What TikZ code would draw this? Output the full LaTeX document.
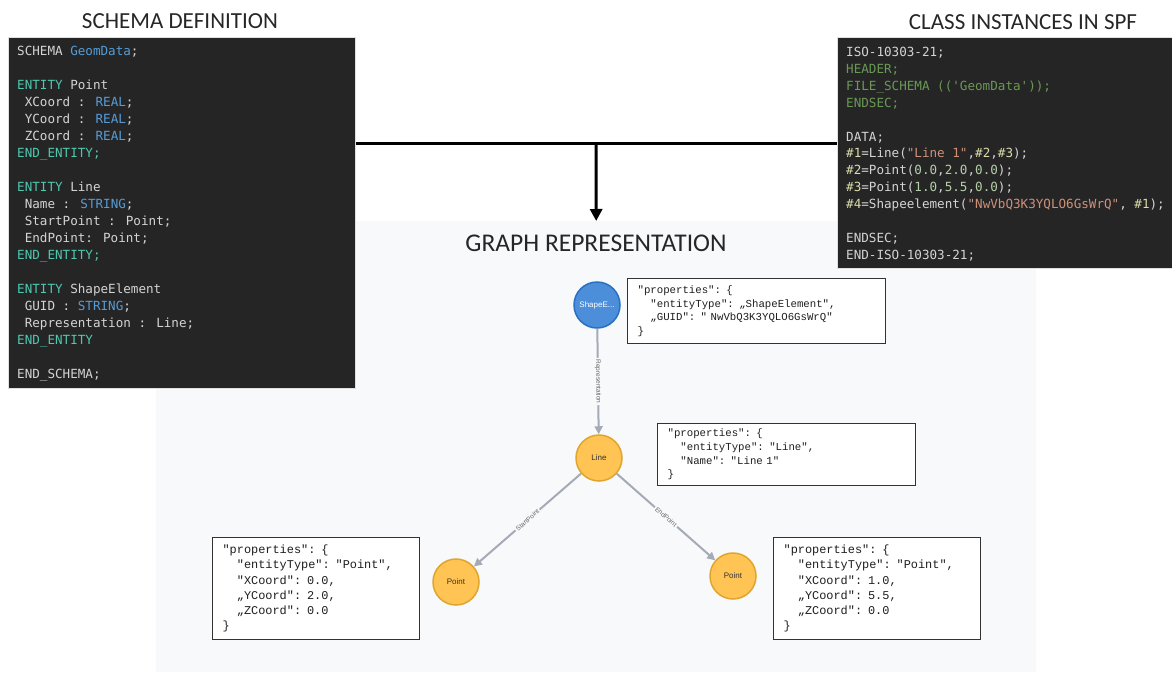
\documentclass[tikz,border=0pt]{standalone}
\usepackage{fontspec}
\usetikzlibrary{arrows.meta}

\newfontfamily\codefont[Ligatures=TeXOff]{DejaVu Sans Mono}
\newfontfamily\jsonfont[Ligatures=TeXOff]{Liberation Mono}
\newfontfamily\headfont{Carlito}
\newfontfamily\neofont{Liberation Sans}

\definecolor{codebg}{HTML}{252526}
\definecolor{codetxt}{HTML}{D4D4D4}
\definecolor{kwteal}{HTML}{4EC9B0}
\definecolor{kwblue}{HTML}{569CD6}
\definecolor{hdrgreen}{HTML}{6A9955}
\definecolor{strorange}{HTML}{CE9178}
\definecolor{numgreen}{HTML}{B5CEA8}
\definecolor{refyellow}{HTML}{DCDCAA}
\definecolor{graphbg}{HTML}{F8F9FB}
\definecolor{edgegray}{HTML}{A5ABB6}
\definecolor{entblue}{HTML}{4C8EDA}
\definecolor{entblueline}{HTML}{2870C2}
\definecolor{entyellow}{HTML}{FFC454}
\definecolor{entyellowline}{HTML}{DFA52C}

\newcommand{\kw}[1]{\textcolor{kwteal}{#1}}
\newcommand{\typ}[1]{\textcolor{kwblue}{#1}}
\newcommand{\hdr}[1]{\textcolor{hdrgreen}{#1}}
\newcommand{\str}[1]{\textcolor{strorange}{#1}}
\newcommand{\num}[1]{\textcolor{numgreen}{#1}}
\newcommand{\rf}[1]{\textcolor{refyellow}{#1}}
\newcommand{\cind}{\hphantom{X}}

\begin{document}
\begin{tikzpicture}
    [x=1pt,y=-1pt,
     head/.style={font=\headfont\fontsize{23}{27}\selectfont, text=black!85, inner sep=0pt},
     codebox/.style={fill=codebg, draw=black!12, line width=.8pt, anchor=north west, inner sep=0pt},
     code/.style={anchor=north west, align=left, inner sep=0pt, text=codetxt},
     json/.style={draw=black!80, line width=1.2pt, fill=white, anchor=north west, align=left,
                  inner xsep=10pt, inner ysep=0pt, text=black!88},
     ent/.style={circle, minimum size=46pt, inner sep=0pt, line width=1.5pt,
                 font=\neofont\fontsize{8}{10}\selectfont},
     edge/.style={draw=edgegray, line width=2pt, -{Triangle[length=8pt,width=8pt]}},
     elabel/.style={midway, sloped, fill=graphbg, inner sep=1.5pt, text=black!60,
                    font=\neofont\fontsize{6.5}{7}\selectfont},
     link/.style={line width=3pt, black}]
  \useasboundingbox (0,0) rectangle (1172,672);

  % graph area
  \node[fill=graphbg, anchor=north west, minimum width=880pt, minimum height=451pt, inner sep=0pt]
    (graphbg) at (156,221) {};
  \node[head, font=\headfont\fontsize{25.5}{30}\selectfont] (graphtitle) at (596,243) {GRAPH REPRESENTATION};

  % schema
  \node[head] (schematitle) at (180,21) {SCHEMA DEFINITION};
  \node[codebox, minimum width=347pt, minimum height=351pt] (schema) at (8,37) {};
  \node[code, font=\codefont\fontsize{12.6}{17}\selectfont] (schematext) at (17,46) {%
    SCHEMA \typ{GeomData};\\[17pt]
    \kw{ENTITY} Point\\
    \cind XCoord : \typ{REAL};\\
    \cind YCoord : \typ{REAL};\\
    \cind ZCoord : \typ{REAL};\\
    \kw{END\_ENTITY;}\\[17pt]
    \kw{ENTITY} Line\\
    \cind Name : \typ{STRING};\\
    \cind StartPoint : Point;\\
    \cind EndPoint: Point;\\
    \kw{END\_ENTITY;}\\[17pt]
    \kw{ENTITY} ShapeElement\\
    \cind GUID : \typ{STRING};\\
    \cind Representation : Line;\\
    \kw{END\_ENTITY}\\[17pt]
    END\_SCHEMA;};

  % instances
  \node[head] (spftitle) at (1023,22) {CLASS INSTANCES IN SPF};
  \node[codebox, minimum width=337pt, minimum height=231pt] (spf) at (837,37) {};
  \node[code, font=\codefont\fontsize{12.6}{16.9}\selectfont] (spftext) at (846,47) {%
    ISO-10303-21;\\
    \hdr{HEADER;}\\
    \hdr{FILE\_SCHEMA (('GeomData'));}\\
    \hdr{ENDSEC;}\\[16.9pt]
    DATA;\\
    \rf{\#1}=Line(\str{"Line 1"},\rf{\#2},\rf{\#3});\\
    \rf{\#2}=Point(\num{0.0},\num{2.0},\num{0.0});\\
    \rf{\#3}=Point(\num{1.0},\num{5.5},\num{0.0});\\
    \rf{\#4}=Shapeelement(\str{"NwVbQ3K3YQLO6GsWrQ"}, \rf{\#1});\\[16.9pt]
    ENDSEC;\\
    END-ISO-10303-21;};

  % connectors
  \coordinate (split) at (596,143);
  \draw[link] (schema.east |- split) -- (spf.west |- split);
  \draw[link, -{Triangle[length=12pt,width=12pt]}] (split) -- (graphbg.north);

  % entities
  \node[ent, fill=entblue, draw=entblueline, text=white] (se) at (597,305) {ShapeE...};
  \node[ent, fill=entyellow, draw=entyellowline, text=black!80] (ln) at (599,458) {Line};
  \node[ent, fill=entyellow, draw=entyellowline, text=black!80] (p1) at (456,582) {Point};
  \node[ent, fill=entyellow, draw=entyellowline, text=black!80] (p2) at (733,576) {Point};

  \draw[edge] (se) -- node[elabel] {Representation} (ln);
  \draw[edge] (ln) -- node[elabel] {StartPoint} (p1);
  \draw[edge] (ln) -- node[elabel] {EndPoint} (p2);

  % properties
  \node[json, text width=238pt, minimum height=65pt, font=\jsonfont\fontsize{10.7}{13.6}\selectfont]
    (sejson) at (627,278) {%
    "properties": \{\\
    \cind\cind"entityType": „ShapeElement",\\
    \cind\cind„GUID": " NwVbQ3K3YQLO6GsWrQ"\\
    \}};
  \node[json, text width=238pt, minimum height=62pt, font=\jsonfont\fontsize{10.7}{13.6}\selectfont]
    (lnjson) at (657,423) {%
    "properties": \{\\
    \cind\cind"entityType": "Line",\\
    \cind\cind"Name": "Line 1"\\
    \}};
  \node[json, text width=187pt, minimum height=102pt, font=\jsonfont\fontsize{11.9}{15.2}\selectfont]
    (p1json) at (212,537) {%
    "properties": \{\\
    \cind\cind"entityType": "Point",\\
    \cind\cind"XCoord": 0.0,\\
    \cind\cind„YCoord": 2.0,\\
    \cind\cind„ZCoord": 0.0\\
    \}};
  \node[json, text width=187pt, minimum height=102pt, font=\jsonfont\fontsize{11.9}{15.2}\selectfont]
    (p2json) at (773,537) {%
    "properties": \{\\
    \cind\cind"entityType": "Point",\\
    \cind\cind"XCoord": 1.0,\\
    \cind\cind„YCoord": 5.5,\\
    \cind\cind„ZCoord": 0.0\\
    \}};
\end{tikzpicture}
\end{document}
